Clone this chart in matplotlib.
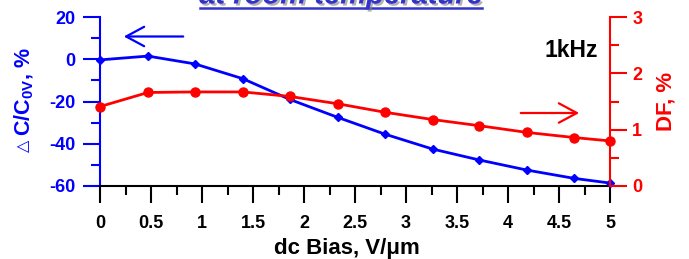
import matplotlib
matplotlib.use("Agg")
import matplotlib.pyplot as plt
from matplotlib.ticker import MultipleLocator, FuncFormatter
from matplotlib.lines import Line2D
import matplotlib.patheffects as pe

plt.rcParams['font.family'] = ['Liberation Sans', 'DejaVu Sans']
plt.rcParams['axes.unicode_minus'] = False
plt.rcParams['mathtext.fontset'] = 'custom'
plt.rcParams['mathtext.rm'] = 'Liberation Sans'
plt.rcParams['mathtext.bf'] = 'Liberation Sans:bold'

# Data
bias = [0, 0.47, 0.93, 1.40, 1.86, 2.33, 2.79, 3.26, 3.72, 4.19, 4.65, 5.0]
dC = [-0.3, 1.5, -2.2, -9.2, -19.0, -27.5, -35.4, -42.5, -47.7, -52.5, -56.4, -58.6]
DF = [1.41, 1.66, 1.67, 1.67, 1.59, 1.46, 1.31, 1.18, 1.07, 0.95, 0.86, 0.80]

BLUE = '#0000FF'
RED = '#FF0000'

W, H = 689, 259
fig = plt.figure(figsize=(W / 100, H / 100), dpi=100)
ax = fig.add_axes([100 / W, 1 - 186 / H, 510 / W, 169 / H])
ax2 = ax.twinx()

ax.plot(bias, dC, color=BLUE, lw=2.0, marker='D', ms=4.5, clip_on=False, zorder=5)
ax2.plot(bias, DF, color=RED, lw=2.0, marker='o', ms=6.5, clip_on=False, zorder=5)

ax.set_xlim(0, 5)
ax.set_ylim(-60, 20)
ax2.set_ylim(0, 3)

ax.xaxis.set_major_locator(MultipleLocator(0.5))
ax.xaxis.set_minor_locator(MultipleLocator(0.25))
ax.xaxis.set_major_formatter(FuncFormatter(lambda v, p: '%g' % v))
ax.yaxis.set_major_locator(MultipleLocator(20))
ax.yaxis.set_minor_locator(MultipleLocator(10))
ax.yaxis.set_major_formatter(FuncFormatter(lambda v, p: '%g' % v))
ax2.yaxis.set_major_locator(MultipleLocator(1))
ax2.yaxis.set_minor_locator(MultipleLocator(0.5))
ax2.yaxis.set_major_formatter(FuncFormatter(lambda v, p: '%g' % v))

for a in (ax, ax2):
    a.spines['top'].set_visible(False)
ax.spines['right'].set_visible(False)
ax.spines['left'].set_color(BLUE)
ax.spines['bottom'].set_color('black')
ax2.spines['left'].set_visible(False)
ax2.spines['bottom'].set_visible(False)
ax2.spines['right'].set_color(RED)
for s in ('left', 'bottom'):
    ax.spines[s].set_linewidth(1.5)
ax2.spines['right'].set_linewidth(1.5)

ax.tick_params(axis='x', which='major', direction='out', length=12, width=1.5,
               color='black', pad=9, labelsize=13)
ax.tick_params(axis='x', which='minor', direction='out', length=6.5, width=1.5, color='black')
ax.tick_params(axis='y', which='major', direction='out', length=12, width=1.5,
               color=BLUE, labelcolor=BLUE, pad=6, labelsize=13)
ax.tick_params(axis='y', which='minor', direction='out', length=6.5, width=1.5, color=BLUE)
ax2.tick_params(axis='y', which='major', direction='out', length=12, width=1.5,
                color=RED, labelcolor=RED, pad=4, labelsize=13)
ax2.tick_params(axis='y', which='minor', direction='out', length=6.5, width=1.5, color=RED)
for lab in ax.get_xticklabels() + ax.get_yticklabels() + ax2.get_yticklabels():
    lab.set_fontweight('bold')

ax.set_xlabel('dc Bias, V/\u03bcm', fontsize=16, fontweight='bold')
ax.xaxis.set_label_coords((347 - 100) / 510, -0.31)
ax.xaxis.label.set_va('top')
ax.set_ylabel('C/C$_{\\mathbf{0V}}$, %', fontsize=15.5, fontweight='bold', color=BLUE)
ax.yaxis.set_label_coords(-(100 - 24) / 510, (186 - 92) / 169)
ax.yaxis.label.set_va('center')
fig.text(23.5 / W, 1 - 146 / H, '\u25b3', fontsize=11.5, family='DejaVu Sans', color=BLUE,
         rotation=90, ha='center', va='center')
ax2.set_ylabel('DF, %', fontsize=16, fontweight='bold', color=RED)
ax2.yaxis.set_label_coords(1 + (666 - 610) / 510, 0.5)
ax2.yaxis.label.set_va('center')

# Arrows
ax.annotate('', xy=(121 / W, 1 - 36.5 / H), xytext=(186 / W, 1 - 36.5 / H),
            xycoords='figure fraction', textcoords='figure fraction',
            arrowprops=dict(arrowstyle='->,head_length=1.3,head_width=0.7', color=BLUE, lw=1.6))
ax.annotate('', xy=(582 / W, 1 - 113 / H), xytext=(518 / W, 1 - 113 / H),
            xycoords='figure fraction', textcoords='figure fraction',
            arrowprops=dict(arrowstyle='->,head_length=1.3,head_width=0.7', color=RED, lw=1.6))

fig.text(571 / W, 1 - 50 / H, '1kHz', fontsize=16.5, fontweight='bold', color='black',
         ha='center', va='center')

# Title (cut off at top)
shadow = [pe.withSimplePatchShadow(offset=(1.5, -1.5), shadow_rgbFace='gray', alpha=0.6)]
fig.text(341 / W, 1 - 3.5 / H, 'at room temperature', fontsize=21, fontweight='bold',
         fontstyle='italic', color='#3333CC', ha='center', va='baseline', path_effects=shadow)
ul = Line2D([200 / W, 482 / W], [1 - 7.5 / H, 1 - 7.5 / H], transform=fig.transFigure,
            color='#3333CC', lw=1.8, path_effects=shadow)
fig.add_artist(ul)

fig.savefig('out.png', dpi=100)
